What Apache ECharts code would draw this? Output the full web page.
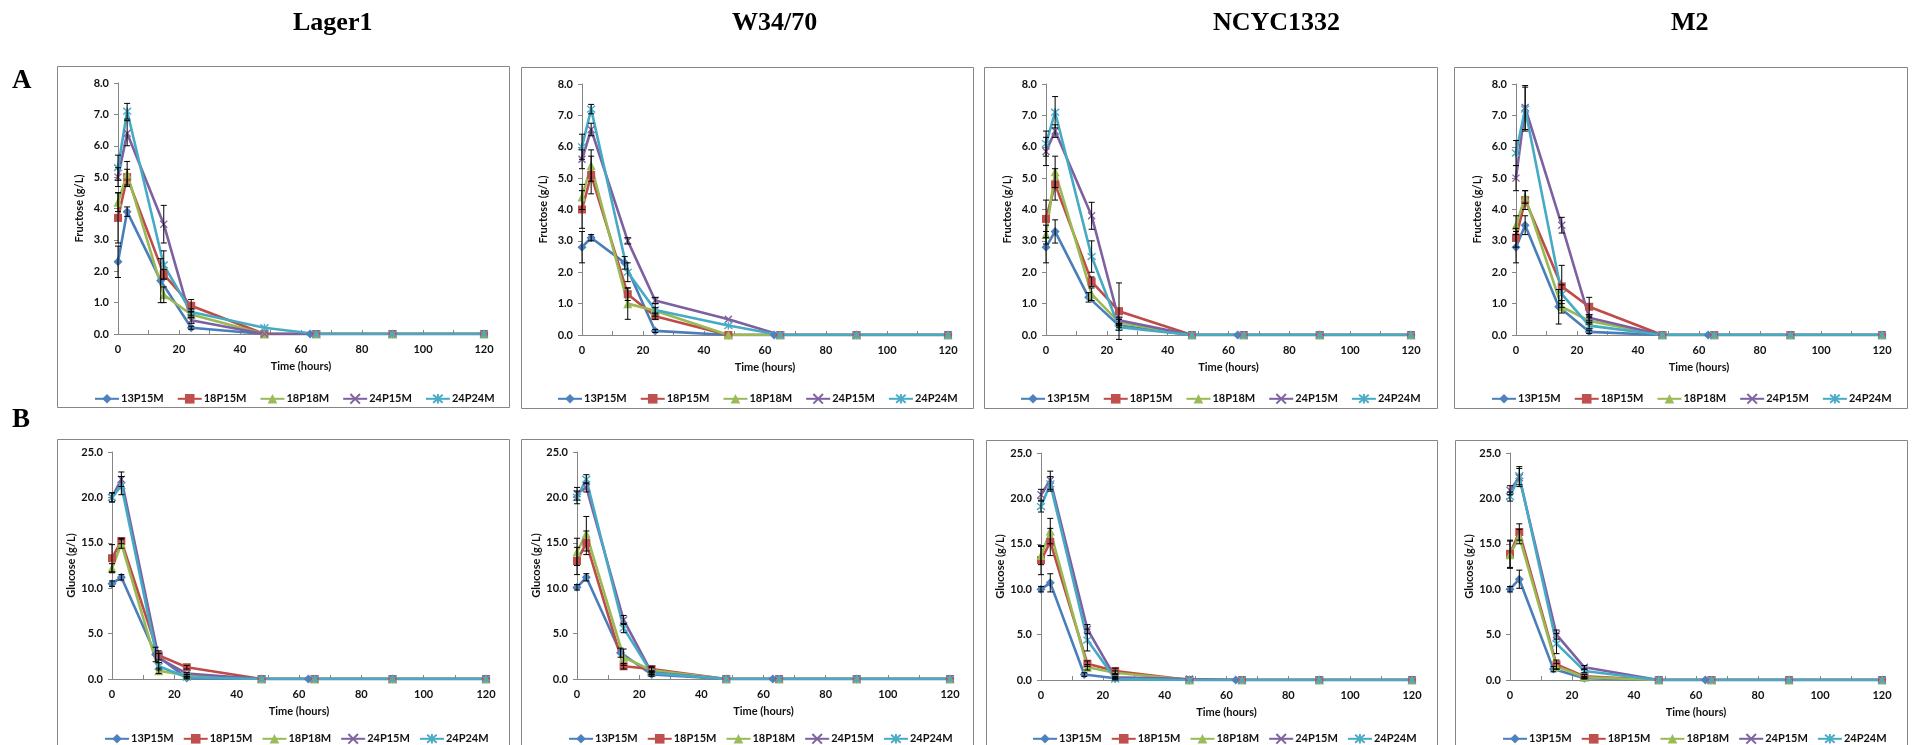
<!DOCTYPE html>
<html>
<head>
<meta charset="utf-8">
<script src="https://cdn.jsdelivr.net/npm/echarts@6/dist/echarts.min.js"></script>
<style>
  html, body { margin: 0; padding: 0; background: #ffffff; }
  #chart { width: 1912px; height: 745px; }
</style>
</head>
<body>
<div id="chart"></div>
<script>
// Sampling times (hours); the 13P15M condition was sampled slightly earlier at two points
const times = [0, 3, 15, 24, 48, 65, 90, 120];
const timesBlue = [0, 3, 14, 24, 48, 63, 90, 120];

const strains = ['Lager1', 'W34/70', 'NCYC1332', 'M2'];
const conditions = ['13P15M', '18P15M', '18P18M', '24P15M', '24P24M'];
const xTicks = [0, 20, 40, 60, 80, 100, 120];

// Fructose (g/L), one row per condition
const fructoseLager1 = [
  [2.3, 3.9, 1.7, 0.2, 0, 0, 0, 0],
  [3.7, 5.0, 1.9, 0.9, 0, 0, 0, 0],
  [4.2, 5.1, 1.25, 0.62, 0, 0, 0, 0],
  [5.0, 6.4, 3.5, 0.44, 0, 0, 0, 0],
  [5.3, 7.1, 2.2, 0.7, 0.2, 0, 0, 0]
];
const fructoseW3470 = [
  [2.8, 3.1, 2.3, 0.13, 0, 0, 0, 0],
  [4.0, 5.1, 1.3, 0.6, 0, 0, 0, 0],
  [4.4, 5.4, 1.0, 0.77, 0, 0, 0, 0],
  [5.6, 6.55, 3.0, 1.1, 0.5, 0, 0, 0],
  [6.0, 7.2, 2.0, 0.8, 0.3, 0, 0, 0]
];
const fructoseNCYC1332 = [
  [2.8, 3.3, 1.2, 0.3, 0, 0, 0, 0],
  [3.7, 4.8, 1.7, 0.76, 0, 0, 0, 0],
  [3.2, 5.2, 1.3, 0.4, 0, 0, 0, 0],
  [5.85, 6.5, 3.8, 0.47, 0, 0, 0, 0],
  [6.1, 7.1, 2.5, 0.25, 0, 0, 0, 0]
];
const fructoseM2 = [
  [2.8, 3.5, 0.9, 0.1, 0, 0, 0, 0],
  [3.1, 4.3, 1.55, 0.9, 0, 0, 0, 0],
  [3.5, 4.4, 0.9, 0.45, 0, 0, 0, 0],
  [5.0, 7.25, 3.5, 0.55, 0, 0, 0, 0],
  [5.8, 7.2, 1.3, 0.3, 0, 0, 0, 0]
];

// Glucose (g/L), one row per condition
const glucoseLager1 = [
  [10.5, 11.2, 2.7, 0.1, 0, 0, 0, 0],
  [13.3, 15.2, 2.6, 1.3, 0, 0, 0, 0],
  [12.2, 14.9, 0.9, 0.4, 0, 0, 0, 0],
  [20.0, 22.0, 2.3, 0.6, 0, 0, 0, 0],
  [20.0, 21.3, 1.4, 0.2, 0, 0, 0, 0]
];
const glucoseW3470 = [
  [10.1, 11.2, 2.9, 0.5, 0, 0, 0, 0],
  [13.0, 15.0, 1.4, 1.1, 0, 0, 0, 0],
  [14.0, 16.0, 2.4, 0.95, 0, 0, 0, 0],
  [20.4, 21.1, 6.5, 0.7, 0, 0, 0, 0],
  [20.0, 22.0, 5.6, 0.65, 0, 0, 0, 0]
];
const glucoseNCYC1332 = [
  [10.0, 10.7, 0.6, 0.2, 0, 0, 0, 0],
  [13.2, 15.2, 1.8, 1.0, 0, 0, 0, 0],
  [13.7, 16.4, 1.4, 0.8, 0, 0, 0, 0],
  [20.4, 22.0, 5.6, 0.3, 0.1, 0, 0, 0],
  [19.1, 21.6, 4.4, 0.1, 0, 0, 0, 0]
];
const glucoseM2 = [
  [10.0, 11.1, 1.2, 0.2, 0, 0, 0, 0],
  [13.9, 16.3, 1.7, 0.4, 0, 0, 0, 0],
  [13.8, 15.8, 1.5, 0.3, 0, 0, 0, 0],
  [20.9, 22.3, 5.0, 1.4, 0, 0, 0, 0],
  [20.2, 22.5, 4.0, 1.0, 0, 0, 0, 0]
];

// Standard deviations at 0, 3, 15 and 24 h (later points have none)
const fructoseErrLager1 = [[0.5, 0.15, 0.7, 0.05], [0.8, 0.25, 0.15, 0.2], [0.3, 0.4, 0.25, 0.1], [0.3, 0.4, 0.6, 0.1], [0.4, 0.25, 0.45, 0.1]];
const fructoseErrW3470 = [[0.5, 0.1, 0.2, 0.05], [0.6, 0.6, 0.2, 0.1], [0.4, 0.5, 0.5, 0.1], [0.3, 0.2, 0.1, 0.1], [0.4, 0.15, 0.3, 0.2]];
const fructoseErrNCYC1332 = [[0.5, 0.37, 0.15, 0.05], [0.6, 0.5, 0.15, 0.9], [0.3, 0.5, 0.2, 0.1], [0.45, 0.2, 0.43, 0.1], [0.4, 0.5, 0.5, 0.1]];
const fructoseErrM2 = [[0.5, 0.3, 0.55, 0.05], [0.3, 0.3, 0.67, 0.3], [0.3, 0.2, 0.2, 0.1], [0.4, 0.7, 0.25, 0.1], [0.4, 0.7, 0.3, 0.1]];
const glucoseErrLager1 = [[0.3, 0.3, 0.8, 0.1], [1.5, 0.3, 0.5, 0.2], [0.5, 0.5, 0.3, 0.1], [0.5, 0.8, 0.5, 0.1], [0.5, 1.0, 0.4, 0.1]];
const glucoseErrW3470 = [[0.3, 0.4, 0.5, 0.2], [1.5, 1.3, 0.3, 0.3], [1.5, 1.9, 0.9, 0.3], [0.7, 0.5, 0.5, 0.2], [0.7, 0.5, 0.5, 0.2]];
const glucoseErrNCYC1332 = [[0.3, 1.0, 0.2, 0.1], [1.6, 1.5, 0.3, 0.3], [1.0, 1.4, 0.3, 0.2], [0.6, 1.0, 0.5, 0.1], [0.6, 0.8, 1.2, 0.1]];
const glucoseErrM2 = [[0.3, 1.0, 0.3, 0.1], [1.5, 0.9, 0.5, 0.2], [1.5, 0.8, 0.3, 0.1], [0.5, 1.0, 0.5, 0.2], [0.5, 1.0, 1.1, 0.2]];

const fructoseSets = [fructoseLager1, fructoseW3470, fructoseNCYC1332, fructoseM2];
const glucoseSets = [glucoseLager1, glucoseW3470, glucoseNCYC1332, glucoseM2];
const fructoseErrSets = [fructoseErrLager1, fructoseErrW3470, fructoseErrNCYC1332, fructoseErrM2];
const glucoseErrSets = [glucoseErrLager1, glucoseErrW3470, glucoseErrNCYC1332, glucoseErrM2];

// Office-style palette and markers
const lineColors = ['#4A7EBB', '#BE4B48', '#98B954', '#7D60A0', '#46AAC5'];
const markerColors = ['#4F81BD', '#C0504D', '#9BBB59', '#8064A2', '#4BACC6'];
const CROSS = 'path://M0,0L10,10M10,0L0,10';
const STAR = 'path://M0,0L10,10M10,0L0,10M5,-1L5,11';
const markers = [
  { symbol: 'diamond', size: 9, stroke: 0 },
  { symbol: 'rect', size: 8, stroke: 0 },
  { symbol: 'triangle', size: 9, stroke: 0 },
  { symbol: CROSS, size: 7, stroke: 1.4 },
  { symbol: STAR, size: 8, stroke: 1.4 }
];

const FONT = 'Lato, "Open Sans", sans-serif';
const SERIF = '"Liberation Serif", "DejaVu Serif", serif';
const AXIS_GREY = '#868686';

// Panel frames and plot rectangles (pixels)
const frames = [
  [57, 66, 452, 341], [521, 67, 452, 341], [984, 67, 453, 341], [1454, 67, 453, 341],
  [57, 439, 452, 330], [521, 439, 452, 330], [986, 440, 451, 330], [1455, 440, 452, 330]
];
const plots = [
  [118, 83, 366, 251], [582, 84, 366, 251], [1046, 84, 365, 251], [1516, 84, 366, 251],
  [112, 452, 374, 227], [577, 452, 373, 227], [1041, 453, 371, 227], [1510, 453, 372, 227]
];
const legendBoxes = [
  [89, 388, 13], [552, 388, 13], [1015, 388, 13], [1486, 388, 13],
  [99, 728, 9], [563, 728, 9], [1027, 728, 9], [1497, 728, 9]
];
const headerX = [293, 732, 1213, 1671];

const grids = [], xAxes = [], yAxes = [], series = [], legends = [], graphics = [];

frames.forEach(function (f) {
  graphics.push({
    type: 'rect', silent: true, z: 0,
    shape: { x: f[0] + 0.5, y: f[1] + 0.5, width: f[2], height: f[3] },
    style: { fill: '#ffffff', stroke: AXIS_GREY, lineWidth: 1 }
  });
});

strains.forEach(function (name, i) {
  graphics.push({
    type: 'text', left: headerX[i], top: 10, silent: true,
    style: { text: name, font: 'bold 26px ' + SERIF, fill: '#000', textAlign: 'center' }
  });
});
graphics.push({ type: 'text', left: 12, top: 68, silent: true, style: { text: 'A', font: 'bold 27px ' + SERIF, fill: '#000' } });
graphics.push({ type: 'text', left: 12, top: 407, silent: true, style: { text: 'B', font: 'bold 27px ' + SERIF, fill: '#000' } });

const labelStyle = { fontFamily: FONT, fontWeight: 'bold', fontSize: 11, color: '#111' };

for (let p = 0; p < 8; p++) {
  const isGlucose = p >= 4;
  const s = p % 4;
  const values = isGlucose ? glucoseSets[s] : fructoseSets[s];
  const errs = isGlucose ? glucoseErrSets[s] : fructoseErrSets[s];
  const r = plots[p];

  grids.push({ left: r[0], top: r[1], width: r[2], height: r[3], containLabel: false });

  xAxes.push({
    type: 'value', gridIndex: p, min: 0, max: 120, interval: 10,
    name: 'Time (hours)', nameLocation: 'middle', nameGap: 27,
    nameTextStyle: labelStyle,
    axisLine: { lineStyle: { color: AXIS_GREY, width: 1 } },
    axisTick: { inside: true, length: 4, lineStyle: { color: AXIS_GREY } },
    axisLabel: Object.assign({ margin: 10, formatter: function (v) { return xTicks.indexOf(v) >= 0 ? String(v) : ''; } }, labelStyle),
    splitLine: { show: false }
  });

  yAxes.push({
    type: 'value', gridIndex: p, min: 0,
    max: isGlucose ? 25 : 8, interval: isGlucose ? 5 : 1,
    name: isGlucose ? 'Glucose (g/L)' : 'Fructose (g/L)',
    nameLocation: 'middle', nameGap: 33, nameTextStyle: labelStyle,
    axisLine: { show: true, lineStyle: { color: AXIS_GREY, width: 1 } },
    axisTick: { show: true, inside: false, length: 4, lineStyle: { color: AXIS_GREY } },
    axisLabel: Object.assign({ margin: 9, formatter: function (v) { return v.toFixed(1); } }, labelStyle),
    splitLine: { show: false }
  });

  // error bars for this panel
  const errData = [];
  conditions.forEach(function (c, k) {
    const t = k === 0 ? timesBlue : times;
    errs[k].forEach(function (e, j) {
      if (e > 0) errData.push([t[j], values[k][j], e]);
    });
  });

  conditions.forEach(function (c, k) {
    const t = k === 0 ? timesBlue : times;
    const m = markers[k];
    series.push({
      type: 'line', name: c, xAxisIndex: p, yAxisIndex: p,
      data: values[k].map(function (v, j) { return [t[j], v]; }),
      symbol: m.symbol, symbolSize: m.size, showAllSymbol: true,
      lineStyle: { color: lineColors[k], width: 2.6 },
      itemStyle: { color: markerColors[k], borderColor: markerColors[k], borderWidth: m.stroke },
      emphasis: { disabled: true }, animation: false, z: 3
    });
  });

  series.push({
    type: 'custom', name: 'sd' + p, xAxisIndex: p, yAxisIndex: p,
    data: errData, z: 4, animation: false, silent: true,
    renderItem: function (params, api) {
      const x = api.value(0), y = api.value(1), e = api.value(2);
      const top = api.coord([x, y + e]);
      const bot = api.coord([x, y - e]);
      const cap = 3;
      const st = { stroke: '#000', lineWidth: 1, fill: null };
      return {
        type: 'group', children: [
          { type: 'line', shape: { x1: top[0], y1: top[1], x2: bot[0], y2: bot[1] }, style: st },
          { type: 'line', shape: { x1: top[0] - cap, y1: top[1], x2: top[0] + cap, y2: top[1] }, style: st },
          { type: 'line', shape: { x1: bot[0] - cap, y1: bot[1], x2: bot[0] + cap, y2: bot[1] }, style: st }
        ]
      };
    }
  });

  const lb = legendBoxes[p];
  legends.push({
    data: conditions, left: lb[0], top: lb[1], itemGap: lb[2],
    itemWidth: 24, itemHeight: 12, selectedMode: false,
    textStyle: Object.assign({ padding: [0, 0, 0, -3] }, labelStyle)
  });
}

const chart = echarts.init(document.getElementById('chart'), null, { renderer: 'canvas' });
chart.setOption({
  backgroundColor: '#ffffff',
  animation: false,
  graphic: graphics,
  grid: grids,
  xAxis: xAxes,
  yAxis: yAxes,
  legend: legends,
  series: series
});
</script>
</body>
</html>
